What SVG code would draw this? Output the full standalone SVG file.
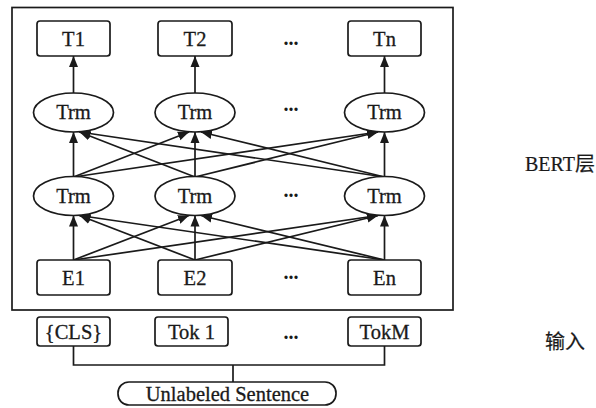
<svg xmlns="http://www.w3.org/2000/svg" width="596" height="408" viewBox="0 0 596 408">
<defs>
<marker id="ah" markerUnits="userSpaceOnUse" markerWidth="11" markerHeight="11" viewBox="0 0 11 11" refX="11" refY="5.5" orient="auto">
<path d="M0,1 L11,5.5 L0,10 z" fill="#1a1a1a"/>
</marker>
<style>
.box{fill:#fff;stroke:#1a1a1a;stroke-width:1.7}
.ell{fill:#fff;stroke:#1a1a1a;stroke-width:1.7}
.t{font-family:'Liberation Serif','Times New Roman',serif;font-size:20.5px;fill:#1a1a1a;stroke:#1a1a1a;stroke-width:0.3;text-anchor:middle}
.d{font-family:'Liberation Serif','Times New Roman',serif;font-size:20px;font-weight:bold;fill:#1a1a1a;text-anchor:middle}
.lab{font-family:'Liberation Serif','Times New Roman','Noto Sans CJK SC',serif;font-size:20px;fill:#1a1a1a;stroke:#1a1a1a;stroke-width:0.2}
.e{stroke:#1a1a1a;stroke-width:1.7;fill:none;marker-end:url(#ah)}
.l{stroke:#1a1a1a;stroke-width:1.7;fill:none}
</style>
</defs>
<rect id="frame" x="12" y="7.5" width="441" height="302.5" fill="none" stroke="#1a1a1a" stroke-width="1.7"/>
<g id="connectors">
<line class="e" x1="73.5" y1="93" x2="73.5" y2="56"/>
<line class="e" x1="195" y1="93" x2="195" y2="56"/>
<line class="e" x1="384.5" y1="93" x2="384.5" y2="56"/>
<line class="e" x1="73.5" y1="177" x2="73.5" y2="132"/>
<line class="e" x1="73.5" y1="177" x2="189" y2="132"/>
<line class="e" x1="73.5" y1="177" x2="378" y2="132"/>
<line class="e" x1="195" y1="177" x2="79.5" y2="132"/>
<line class="e" x1="195" y1="177" x2="195" y2="132"/>
<line class="e" x1="195" y1="177" x2="378" y2="132"/>
<line class="e" x1="384.5" y1="177" x2="79.5" y2="132"/>
<line class="e" x1="384.5" y1="177" x2="201" y2="132"/>
<line class="e" x1="384.5" y1="177" x2="384.5" y2="132"/>
<line class="e" x1="73.5" y1="260" x2="73.5" y2="215.5"/>
<line class="e" x1="73.5" y1="260" x2="189" y2="215.5"/>
<line class="e" x1="73.5" y1="260" x2="378" y2="215.5"/>
<line class="e" x1="195" y1="260" x2="79.5" y2="215.5"/>
<line class="e" x1="195" y1="260" x2="195" y2="215.5"/>
<line class="e" x1="195" y1="260" x2="378" y2="215.5"/>
<line class="e" x1="384.5" y1="260" x2="79.5" y2="215.5"/>
<line class="e" x1="384.5" y1="260" x2="201" y2="215.5"/>
<line class="e" x1="384.5" y1="260" x2="384.5" y2="215.5"/>
<polyline class="l" points="73.5,346 73.5,365 384.5,365 384.5,346"/>
<line class="l" x1="233" y1="365" x2="233" y2="382"/>
</g>
<g id="T1"><rect class="box" x="37" y="21" width="73" height="35" rx="3"/><text class="t" x="73.5" y="45.5">T1</text></g>
<g id="T2"><rect class="box" x="158" y="21" width="74" height="35" rx="3"/><text class="t" x="195" y="45.5">T2</text></g>
<g id="Tn"><rect class="box" x="348" y="21" width="73" height="35" rx="3"/><text class="t" x="384.5" y="45.5">Tn</text></g>
<g id="dotsT"><text class="d" x="291" y="45">...</text></g>
<g id="TrmU1"><ellipse class="ell" cx="73.5" cy="112.5" rx="40" ry="19.5"/><text class="t" x="73.5" y="119">Trm</text></g>
<g id="TrmU2"><ellipse class="ell" cx="195" cy="112.5" rx="40" ry="19.5"/><text class="t" x="195" y="119">Trm</text></g>
<g id="TrmUn"><ellipse class="ell" cx="384.5" cy="112.5" rx="40" ry="19.5"/><text class="t" x="384.5" y="119">Trm</text></g>
<g id="dotsU"><text class="d" x="291" y="111">...</text></g>
<g id="TrmL1"><ellipse class="ell" cx="73.5" cy="196" rx="40" ry="19.5"/><text class="t" x="73.5" y="202.5">Trm</text></g>
<g id="TrmL2"><ellipse class="ell" cx="195" cy="196" rx="40" ry="19.5"/><text class="t" x="195" y="202.5">Trm</text></g>
<g id="TrmLn"><ellipse class="ell" cx="384.5" cy="196" rx="40" ry="19.5"/><text class="t" x="384.5" y="202.5">Trm</text></g>
<g id="dotsL"><text class="d" x="291" y="197">...</text></g>
<g id="E1"><rect class="box" x="37" y="260" width="73" height="35" rx="3"/><text class="t" x="73.5" y="284.5">E1</text></g>
<g id="E2"><rect class="box" x="158" y="260" width="74" height="35" rx="3"/><text class="t" x="195" y="284.5">E2</text></g>
<g id="En"><rect class="box" x="348" y="260" width="73" height="35" rx="3"/><text class="t" x="384.5" y="284.5">En</text></g>
<g id="dotsE"><text class="d" x="291" y="279">...</text></g>
<g id="CLS"><rect class="box" x="37" y="317" width="73" height="29" rx="3"/><text class="t" x="73.5" y="338.5">{CLS}</text></g>
<g id="Tok1"><rect class="box" x="155" y="317" width="73" height="29" rx="3"/><text class="t" x="191.5" y="338.5">Tok 1</text></g>
<g id="TokM"><rect class="box" x="348" y="317" width="73" height="29" rx="3"/><text class="t" x="384.5" y="338.5">TokM</text></g>
<g id="dotsTok"><text class="d" x="291" y="339">...</text></g>
<g id="sentence"><rect class="box" x="118" y="382" width="218" height="23" rx="11"/><text class="t" x="227.5" y="400.5">Unlabeled Sentence</text></g>
<g id="labelBERT"><text class="lab" x="525" y="171">BERT层</text></g>
<g id="labelInput"><text class="lab" x="545" y="349">输入</text></g>
</svg>
